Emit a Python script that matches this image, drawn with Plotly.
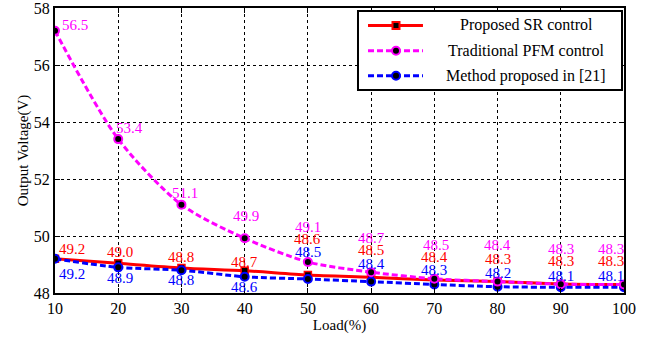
import plotly.graph_objects as go

load = [10, 20, 30, 40, 50, 60, 70, 80, 90, 100]
sr_vals = [49.2, 49.04, 48.88, 48.78, 48.63, 48.55, 48.46, 48.4, 48.32, 48.3]
pfm_vals = [57.2, 53.4, 51.1, 49.92, 49.09, 48.73, 48.5, 48.4, 48.31, 48.3]
ref_vals = [49.2, 48.9, 48.8, 48.57, 48.49, 48.4, 48.3, 48.22, 48.2, 48.2]

sr_labels = ["49.2", "49.0", "48.8", "48.7", "48.6", "48.5", "48.4", "48.3", "48.3", "48.3"]
pfm_labels = ["56.5", "53.4", "51.1", "49.9", "49.1", "48.7", "48.5", "48.4", "48.3", "48.3"]
ref_labels = ["49.2", "48.9", "48.8", "48.6", "48.5", "48.4", "48.3", "48.2", "48.1", "48.1"]

series_names = ["Proposed SR control", "Traditional PFM control", "Method proposed in [21]"]

y_ticks = [48, 50, 52, 54, 56, 58]
x_ticks = [10, 20, 30, 40, 50, 60, 70, 80, 90, 100]

FONT = "Liberation Serif"
RED = "#FF0000"
MAG = "#FF00FF"
BLUE = "#0000FF"
DASH = "6px,3px"

fig = go.Figure()
fig.add_trace(go.Scatter(
    x=load, y=sr_vals, mode="lines+markers", name=series_names[0],
    line=dict(color=RED, width=3, shape="spline", smoothing=0.8),
    marker=dict(symbol="square", size=7, color="black", line=dict(color=RED, width=1.5))))
fig.add_trace(go.Scatter(
    x=load, y=ref_vals, mode="lines+markers", name=series_names[2],
    line=dict(color=BLUE, width=3, dash=DASH, shape="spline", smoothing=0.8),
    marker=dict(symbol="circle", size=8, color="black", line=dict(color=BLUE, width=2))))
fig.add_trace(go.Scatter(
    x=load, y=pfm_vals, mode="lines+markers", name=series_names[1],
    line=dict(color=MAG, width=3, dash=DASH, shape="spline", smoothing=0.8),
    marker=dict(symbol="circle", size=8, color="black", line=dict(color=MAG, width=2))))

# label offsets (pixels)
pfm_dx = [20, 11, 4, 1, 0, 0, 2, 0, 0, -13]
pfm_dy = [6, 11, 12, 22, 35, 34, 34, 37, 35, 35]
sr_dx = [17, 2, 0, 0, 0, 0, 0, 0, 0, -13]
sr_dy = [10, 11, 11, 9, 36, 27, 23, 23, 23, 23]
ref_dx = [17, 2, 0, 0, 0, 0, 0, 0, 0, -13]
ref_dy = [-15, -11, -10, -10, 27, 18, 14, 14, 11, 11]

annotations = []
for vals, labs, dxs, dys, col in [
    (pfm_vals, pfm_labels, pfm_dx, pfm_dy, MAG),
    (sr_vals, sr_labels, sr_dx, sr_dy, RED),
    (ref_vals, ref_labels, ref_dx, ref_dy, BLUE),
]:
    for xv, yv, t, dx, dy in zip(load, vals, labs, dxs, dys):
        annotations.append(dict(
            x=xv, y=yv, text=t, showarrow=False, xshift=dx, yshift=dy,
            xanchor="center", yanchor="middle",
            font=dict(family=FONT, size=15, color=col)))

# custom legend (paper coordinates of plot area)
shapes = [dict(type="rect", xref="paper", yref="paper",
               x0=0.5325, x1=0.9965, y0=0.7123, y1=0.9895,
               fillcolor="white", line=dict(color="black", width=2))]
rows_y = [0.9386, 0.8502, 0.7625]
leg_style = [
    (RED, "solid", "rect"),
    (MAG, DASH, "circle"),
    (BLUE, DASH, "circle"),
]
for ry, name, (col, dsh, sym) in zip(rows_y, series_names, leg_style):
    shapes.append(dict(type="line", xref="paper", yref="paper",
                       x0=0.5501, x1=0.6467, y0=ry, y1=ry,
                       line=dict(color=col, width=3, dash=dsh)))
    half = 3.5 if sym == "rect" else 4
    shapes.append(dict(type=sym, xref="paper", yref="paper",
                       xsizemode="pixel", ysizemode="pixel",
                       xanchor=0.5993, yanchor=ry,
                       x0=-half, x1=half, y0=-half, y1=half,
                       fillcolor="black", line=dict(color=col, width=2)))
    annotations.append(dict(xref="paper", yref="paper", x=0.8278, y=ry,
                            text=name, showarrow=False, xanchor="center", yanchor="middle",
                            font=dict(family=FONT, size=16, color="black")))

axis_common = dict(
    showline=True, linecolor="black", linewidth=2, mirror="ticks",
    ticks="inside", ticklen=5, tickcolor="black", tickwidth=1,
    showgrid=True, gridcolor="black", griddash="dot", gridwidth=1,
    zeroline=False, automargin=False, ticklabeloverflow="allow",
    tickfont=dict(family=FONT, size=16, color="black"),
)

fig.update_layout(
    width=649, height=338,
    margin=dict(l=55, r=25, t=8, b=45),
    paper_bgcolor="white", plot_bgcolor="white",
    annotations=annotations, shapes=shapes,
    showlegend=False,
    xaxis=dict(
        range=[10, 100], tickvals=x_ticks,
        title=dict(text="Load(%)", font=dict(family=FONT, size=15, color="black"), standoff=2),
        **axis_common),
    yaxis=dict(
        range=[48, 58], tickvals=y_ticks,
        title=dict(text="Output Voltage(V)", font=dict(family=FONT, size=15, color="black"), standoff=2),
        **axis_common),
)

fig.write_html("out.html")
